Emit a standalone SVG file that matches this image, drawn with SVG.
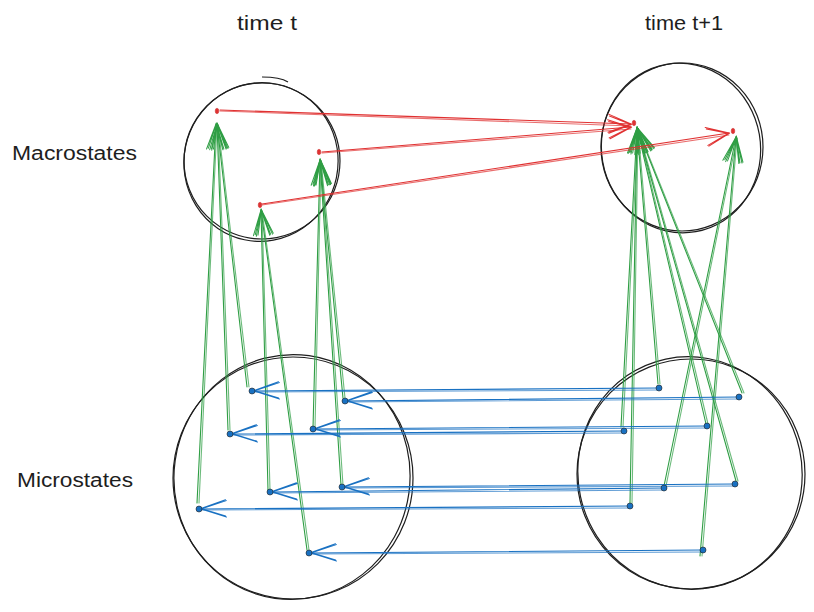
<svg xmlns="http://www.w3.org/2000/svg" width="814" height="612" viewBox="0 0 814 612">
<style>
  .lbl { font-family: "Liberation Sans", "DejaVu Sans", sans-serif; font-size: 20px; fill: #1e1e1e; }
  .circ { fill: none; stroke: #1e1e1e; stroke-width: 1.2; }
  .g { fill: none; stroke: #2f9e44; stroke-width: 1.1; stroke-linecap: round; }
  .r { fill: none; stroke: #e03131; stroke-width: 1.1; stroke-linecap: round; }
  .b { fill: none; stroke: #1971c2; stroke-width: 1.1; stroke-linecap: round; }
  .g2 { stroke-opacity: 0.7; }
  .bdot { fill: #1971c2; stroke: #1e1e1e; stroke-width: 0.6; }
  .rdot { fill: #e03131; stroke: #c92a2a; stroke-width: 0.5; }
</style>
<defs>
  <marker id="hg" markerUnits="userSpaceOnUse" orient="auto" refX="0" refY="0" markerWidth="40" markerHeight="40" viewBox="-40 -20 44 40" overflow="visible">
    <path d="M -28 -9 L 0 0 L -28 9 M -27 -7 L 0 0.5 L -27 10" fill="none" stroke="#2f9e44" stroke-width="1.1" stroke-linecap="round"/>
  </marker>
  <marker id="hr" markerUnits="userSpaceOnUse" orient="auto" refX="0" refY="0" markerWidth="40" markerHeight="40" viewBox="-40 -20 44 40" overflow="visible">
    <path d="M -25 -10 L 0 0 L -25 10 M -24 -8 L 0 0.5 L -24 11" fill="none" stroke="#e03131" stroke-width="1.1" stroke-linecap="round"/>
  </marker>
  <marker id="hb" markerUnits="userSpaceOnUse" orient="auto" refX="0" refY="0" markerWidth="40" markerHeight="40" viewBox="-40 -20 44 40" overflow="visible">
    <path d="M -28 -9 L 0 0 L -28 9 M -27 -8 L 0 0.5 L -27 10" fill="none" stroke="#1971c2" stroke-width="1.1" stroke-linecap="round"/>
  </marker>
</defs>
<rect width="814" height="612" fill="#ffffff"/>

<g id="labels">
  <text class="lbl" x="237" y="30" textLength="60" lengthAdjust="spacingAndGlyphs">time t</text>
  <text class="lbl" x="645" y="30" textLength="78" lengthAdjust="spacingAndGlyphs">time t+1</text>
  <text class="lbl" x="12" y="160" textLength="125" lengthAdjust="spacingAndGlyphs">Macrostates</text>
  <text class="lbl" x="17" y="487" textLength="116" lengthAdjust="spacingAndGlyphs">Microstates</text>
</g>

<g id="macro-t">
  <ellipse class="circ" cx="262" cy="161" rx="78" ry="78"/>
  <ellipse class="circ" cx="261" cy="162" rx="77" ry="79.5" transform="rotate(12 261 162)"/>
  <path class="circ" d="M 262 77 Q 280 77 288 82"/>
</g>
<g id="macro-t1">
  <ellipse class="circ" cx="682" cy="147" rx="81" ry="84"/>
  <ellipse class="circ" cx="681" cy="148" rx="79.5" ry="85" transform="rotate(-10 681 148)"/>
</g>
<g id="micro-t">
  <ellipse class="circ" cx="293" cy="478" rx="120" ry="121"/>
  <ellipse class="circ" cx="292" cy="477" rx="118" ry="122.5" transform="rotate(8 292 477)"/>
</g>
<g id="micro-t1">
  <ellipse class="circ" cx="691" cy="474" rx="114" ry="115"/>
  <ellipse class="circ" cx="690" cy="473" rx="112" ry="116.5" transform="rotate(-12 690 473)"/>
</g>

<g id="connectors">
  <!-- green: micro -> macro at t -->
  <path class="g" d="M 247 387 L 217 124" marker-end="url(#hg)"/>
  <path class="g g2" d="M 249 387 L 218 125"/>
  <path class="g" d="M 228 430 L 217 124" marker-end="url(#hg)"/>
  <path class="g g2" d="M 230 430 L 218 125"/>
  <path class="g" d="M 197 503 L 216 124" marker-end="url(#hg)"/>
  <path class="g g2" d="M 199 503 L 217 125"/>
  <path class="g" d="M 268 490 L 261 210" marker-end="url(#hg)"/>
  <path class="g g2" d="M 270 490 L 262 211"/>
  <path class="g" d="M 307 550 L 261 210" marker-end="url(#hg)"/>
  <path class="g g2" d="M 309 550 L 262 211"/>
  <path class="g" d="M 313 428 L 320 160" marker-end="url(#hg)"/>
  <path class="g g2" d="M 315 428 L 321 161"/>
  <path class="g" d="M 343 398 L 320 160" marker-end="url(#hg)"/>
  <path class="g g2" d="M 345 398 L 321 161"/>
  <path class="g" d="M 341 485 L 320 160" marker-end="url(#hg)"/>
  <path class="g g2" d="M 343 485 L 321 161"/>

  <!-- green: micro -> macro at t+1 -->
  <path class="g" d="M 658 384 L 637 128" marker-end="url(#hg)"/>
  <path class="g g2" d="M 660 384 L 638 129"/>
  <path class="g" d="M 742 393 L 637 128" marker-end="url(#hg)"/>
  <path class="g g2" d="M 744 393 L 638 129"/>
  <path class="g" d="M 621 427 L 637 128" marker-end="url(#hg)"/>
  <path class="g g2" d="M 623 427 L 638 129"/>
  <path class="g" d="M 706 424 L 637 128" marker-end="url(#hg)"/>
  <path class="g g2" d="M 708 424 L 638 129"/>
  <path class="g" d="M 736 481 L 637 128" marker-end="url(#hg)"/>
  <path class="g g2" d="M 738 481 L 638 129"/>
  <path class="g" d="M 630 503 L 637 128" marker-end="url(#hg)"/>
  <path class="g g2" d="M 632 503 L 638 129"/>
  <path class="g" d="M 664 486 L 736 137" marker-end="url(#hg)"/>
  <path class="g g2" d="M 666 486 L 737 138"/>
  <path class="g" d="M 700 556 L 736 137" marker-end="url(#hg)"/>
  <path class="g g2" d="M 702 556 L 737 138"/>

  <!-- red: macro t -> macro t+1 -->
  <path class="r" d="M 220 110 L 631 124" marker-end="url(#hr)"/>
  <path class="r g2" d="M 220 111 L 631 126"/>
  <path class="r" d="M 322 152 L 631 127" marker-end="url(#hr)"/>
  <path class="r g2" d="M 322 153 L 631 129"/>
  <path class="r" d="M 262 204 L 729 133" marker-end="url(#hr)"/>
  <path class="r g2" d="M 262 205 L 729 135"/>

  <!-- blue: micro t+1 -> micro t -->
  <path class="b" d="M 659 388 L 254 391" marker-end="url(#hb)"/>
  <path class="b g2" d="M 659 390 L 254 392"/>
  <path class="b" d="M 739 397 L 347 401" marker-end="url(#hb)"/>
  <path class="b g2" d="M 739 399 L 347 402"/>
  <path class="b" d="M 624 431 L 232 434" marker-end="url(#hb)"/>
  <path class="b g2" d="M 624 433 L 232 435"/>
  <path class="b" d="M 707 426 L 315 429" marker-end="url(#hb)"/>
  <path class="b g2" d="M 707 428 L 315 430"/>
  <path class="b" d="M 664 488 L 272 492" marker-end="url(#hb)"/>
  <path class="b g2" d="M 664 490 L 272 493"/>
  <path class="b" d="M 735 484 L 344 487" marker-end="url(#hb)"/>
  <path class="b g2" d="M 735 486 L 344 488"/>
  <path class="b" d="M 630 506 L 201 509" marker-end="url(#hb)"/>
  <path class="b g2" d="M 630 508 L 201 510"/>
  <path class="b" d="M 703 550 L 311 553" marker-end="url(#hb)"/>
  <path class="b g2" d="M 703 552 L 311 554"/>
</g>

<g id="macro-dots">
  <ellipse id="A" class="rdot" cx="217" cy="111" rx="1.8" ry="2.8"/>
  <ellipse id="B" class="rdot" cx="319" cy="152" rx="1.8" ry="2.8"/>
  <ellipse id="C" class="rdot" cx="260" cy="205" rx="1.8" ry="2.8"/>
  <ellipse id="D" class="rdot" cx="634" cy="123" rx="1.8" ry="2.8"/>
  <ellipse id="E" class="rdot" cx="733" cy="131" rx="1.8" ry="2.8"/>
</g>
<g id="micro-dots">
  <circle id="m1" class="bdot" cx="252" cy="391" r="3"/>
  <circle id="m2" class="bdot" cx="345" cy="401" r="3"/>
  <circle id="m3" class="bdot" cx="230" cy="434" r="3"/>
  <circle id="m4" class="bdot" cx="313" cy="429" r="3"/>
  <circle id="m5" class="bdot" cx="270" cy="492" r="3"/>
  <circle id="m6" class="bdot" cx="342" cy="487" r="3"/>
  <circle id="m7" class="bdot" cx="199" cy="509" r="3"/>
  <circle id="m8" class="bdot" cx="309" cy="553" r="3"/>
  <circle id="n1" class="bdot" cx="659" cy="388" r="3"/>
  <circle id="n2" class="bdot" cx="739" cy="397" r="3"/>
  <circle id="n3" class="bdot" cx="624" cy="431" r="3"/>
  <circle id="n4" class="bdot" cx="707" cy="426" r="3"/>
  <circle id="n5" class="bdot" cx="664" cy="488" r="3"/>
  <circle id="n6" class="bdot" cx="735" cy="484" r="3"/>
  <circle id="n7" class="bdot" cx="630" cy="506" r="3"/>
  <circle id="n8" class="bdot" cx="703" cy="550" r="3"/>
</g>
</svg>
